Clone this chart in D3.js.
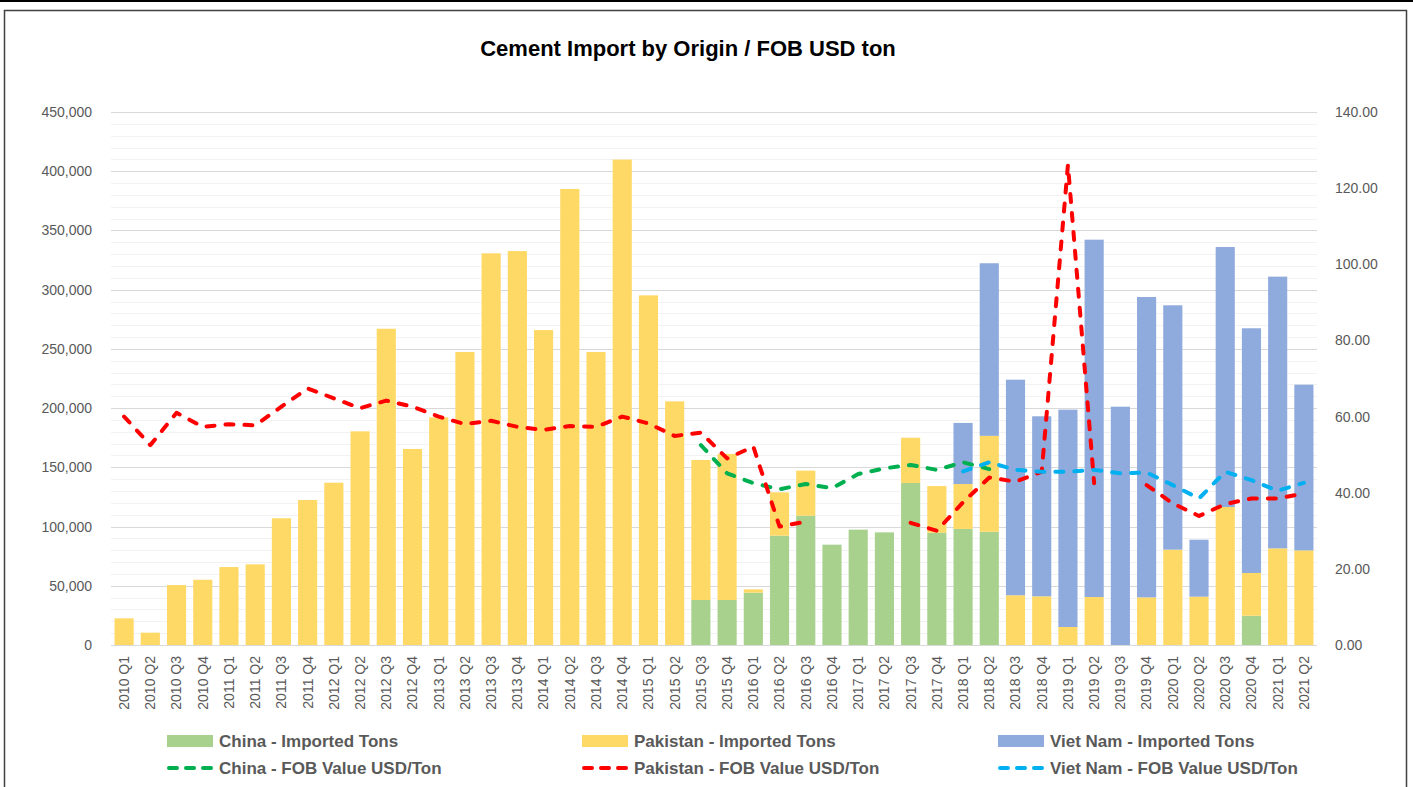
<!DOCTYPE html>
<html>
<head>
<meta charset="utf-8">
<script src="https://cdn.jsdelivr.net/npm/d3@7"></script>
<style>
    body { margin: 0; background: #ffffff; }
    svg { display: block; font-family: "Liberation Sans", Arial, sans-serif; }
</style>
</head>
<body>
<svg width="1413" height="787"></svg>
<script>
    var quarters = [
        "2010 Q1", "2010 Q2", "2010 Q3", "2010 Q4",
        "2011 Q1", "2011 Q2", "2011 Q3", "2011 Q4",
        "2012 Q1", "2012 Q2", "2012 Q3", "2012 Q4",
        "2013 Q1", "2013 Q2", "2013 Q3", "2013 Q4",
        "2014 Q1", "2014 Q2", "2014 Q3", "2014 Q4",
        "2015 Q1", "2015 Q2", "2015 Q3", "2015 Q4",
        "2016 Q1", "2016 Q2", "2016 Q3", "2016 Q4",
        "2017 Q1", "2017 Q2", "2017 Q3", "2017 Q4",
        "2018 Q1", "2018 Q2", "2018 Q3", "2018 Q4",
        "2019 Q1", "2019 Q2", "2019 Q3", "2019 Q4",
        "2020 Q1", "2020 Q2", "2020 Q3", "2020 Q4",
        "2021 Q1", "2021 Q2"
    ];

    // imported tons, stacked China / Pakistan / Viet Nam
    var chinaTons = [
        0, 0, 0, 0, 0, 0, 0, 0, 0, 0, 0, 0,
        0, 0, 0, 0, 0, 0, 0, 0, 0, 0, 38000, 38000,
        44200, 92300, 109200, 84700, 97400, 95100, 136800, 94800,
        98000, 95600, 0, 0, 0, 0, 0, 0,
        0, 0, 0, 24700, 0, 0
    ];
    var pakistanTons = [
        22500, 10400, 50600, 55100, 65800, 68100, 107000, 122400,
        137000, 180400, 267000, 165500, 192200, 247400, 330700, 332600,
        265900, 385000, 247400, 409800, 295200, 205700, 118200, 123300,
        2800, 36600, 38000, 0, 0, 0, 38200, 39400,
        37900, 81000, 42000, 41100, 15200, 40500, 0, 40200,
        80500, 40800, 116500, 36100, 81600, 79900
    ];
    var vietnamTons = [
        0, 0, 0, 0, 0, 0, 0, 0, 0, 0, 0, 0,
        0, 0, 0, 0, 0, 0, 0, 0, 0, 0, 0, 0,
        0, 0, 0, 0, 0, 0, 0, 0,
        51600, 145700, 182000, 152000, 183500, 301700, 201200, 253600,
        206300, 48100, 219500, 206600, 229400, 139900
    ];

    // FOB value USD/ton (null = no data)
    var chinaFob = [
        null, null, null, null, null, null, null, null, null, null, null, null,
        null, null, null, null, null, null, null, null, null, null, 52.5, 45.1,
        42.5, 40.9, 42.3, 41.2, 44.9, 46.4, 47.3, 46.0,
        48.0, 46.2, null, null, null, null, null, null,
        null, null, null, null, null, null
    ];
    var pakistanFob = [
        60.0, 52.5, 61.0, 57.3, 58.0, 57.7, 62.6, 67.4,
        64.8, 62.2, 64.2, 62.6, 60.0, 58.0, 58.9, 57.3,
        56.5, 57.5, 57.3, 60.0, 58.2, 54.9, 55.8, 49.0,
        52.1, 31.1, 32.4, null, null, null, 32.1, 30.0,
        37.5, 44.0, 42.9, 45.5, 126.1, 42.5, null, 42.0,
        37.2, 33.9, 37.0, 38.5, 38.5, 39.8
    ];
    var vietnamFob = [
        null, null, null, null, null, null, null, null, null, null, null, null,
        null, null, null, null, null, null, null, null, null, null, null, null,
        null, null, null, null, null, null, null, null,
        45.6, 48.0, 46.0, 45.5, 45.5, 46.0, 45.1, 45.3,
        42.0, 38.5, 45.5, 43.3, 40.5, 42.6
    ];

    var leftTicks = [0, 50000, 100000, 150000, 200000, 250000, 300000, 350000, 400000, 450000];
    var rightTicks = [0, 20, 40, 60, 80, 100, 120, 140];

    var seriesNames = ["China", "Pakistan", "Viet Nam"];
    var barColors = ["#a9d18e", "#ffd966", "#8faadc"];
    var lineColors = ["#00b050", "#ff0000", "#00b0f0"];
    var textColor = "#595959";

    var svg = d3.select("svg");
    var plotLeft = 111, plotRight = 1317, plotTop = 112, plotBottom = 645;

    // frame
    svg.append("rect")
        .attr("x", 0).attr("y", 0).attr("width", 1413).attr("height", 2)
        .attr("fill", "#000000");
    svg.append("path")
        .attr("d", "M4.5,800 V10.5 H1406.5 V800")
        .attr("fill", "none")
        .attr("stroke", "#404040")
        .attr("stroke-width", 1.5);

    svg.append("text")
        .attr("x", 688).attr("y", 56)
        .attr("text-anchor", "middle")
        .attr("font-size", 22)
        .attr("font-weight", "bold")
        .attr("fill", "#000000")
        .text("Cement Import by Origin / FOB USD ton");

    var x = d3.scaleBand()
        .domain(quarters)
        .range([plotLeft, plotRight])
        .paddingInner(0.27)
        .paddingOuter(0.135);
    var y = d3.scaleLinear().domain([0, 450000]).range([plotBottom, plotTop]);
    var y2 = d3.scaleLinear().domain([0, 140]).range([plotBottom, plotTop]);

    // gridlines: minor every 10,000, major every 50,000
    svg.append("g")
        .selectAll("line")
        .data(d3.range(10000, 450001, 10000).filter(function(v) { return v % 50000 !== 0; }))
        .enter().append("line")
        .attr("x1", plotLeft).attr("x2", plotRight)
        .attr("y1", function(d) { return Math.round(y(d)) + 0.5; })
        .attr("y2", function(d) { return Math.round(y(d)) + 0.5; })
        .attr("stroke", "#f2f2f2");
    svg.append("g")
        .selectAll("line")
        .data(leftTicks.slice(1))
        .enter().append("line")
        .attr("x1", plotLeft).attr("x2", plotRight)
        .attr("y1", function(d) { return Math.round(y(d)) + 0.5; })
        .attr("y2", function(d) { return Math.round(y(d)) + 0.5; })
        .attr("stroke", "#d9d9d9");

    // stacked bars
    var table = quarters.map(function(q, i) {
        return { q: q, China: chinaTons[i], Pakistan: pakistanTons[i], "Viet Nam": vietnamTons[i] };
    });
    var stacked = d3.stack().keys(seriesNames)(table);
    svg.append("g")
        .selectAll("g")
        .data(stacked)
        .enter().append("g")
        .attr("fill", function(d, i) { return barColors[i]; })
        .selectAll("rect")
        .data(function(d) { return d; })
        .enter().append("rect")
        .attr("x", function(d) { return x(d.data.q); })
        .attr("width", x.bandwidth())
        .attr("y", function(d) { return y(d[1]); })
        .attr("height", function(d) { return y(d[0]) - y(d[1]); });

    // x axis line
    svg.append("line")
        .attr("x1", plotLeft).attr("x2", plotRight)
        .attr("y1", plotBottom + 0.5).attr("y2", plotBottom + 0.5)
        .attr("stroke", "#d9d9d9");

    // FOB lines
    var fobSeries = [chinaFob, pakistanFob, vietnamFob];
    var line = d3.line()
        .defined(function(d) { return d !== null; })
        .x(function(d, i) { return x(quarters[i]) + x.bandwidth() / 2; })
        .y(function(d) { return y2(d); });
    svg.append("g")
        .selectAll("path")
        .data(fobSeries)
        .enter().append("path")
        .attr("d", line)
        .attr("fill", "none")
        .attr("stroke", function(d, i) { return lineColors[i]; })
        .attr("stroke-width", 4)
        .attr("stroke-linecap", "round")
        .attr("stroke-linejoin", "round")
        .attr("stroke-dasharray", "8,11");

    // axes
    var fmt = d3.format(",");
    svg.append("g")
        .attr("transform", "translate(" + (plotLeft - 16) + ",0)")
        .call(d3.axisLeft(y).tickValues(leftTicks).tickFormat(fmt).tickSize(0))
        .call(function(g) { g.select(".domain").remove(); });
    svg.append("g")
        .attr("transform", "translate(" + (plotRight + 15) + ",0)")
        .call(d3.axisRight(y2).tickValues(rightTicks).tickFormat(d3.format(".2f")).tickSize(0))
        .call(function(g) { g.select(".domain").remove(); });
    svg.append("g")
        .attr("transform", "translate(0," + (plotBottom + 11) + ")")
        .call(d3.axisBottom(x).tickSize(0))
        .call(function(g) { g.select(".domain").remove(); })
        .selectAll("text")
        .attr("transform", "rotate(-90)")
        .attr("text-anchor", "end")
        .attr("x", 0)
        .attr("y", 0)
        .attr("dy", "0.35em");
    svg.selectAll(".tick text")
        .attr("fill", textColor)
        .attr("font-size", 14)
        .attr("font-family", "Liberation Sans, Arial, sans-serif");

    // legend
    var legendX = [167, 582, 998];
    var legend = svg.append("g")
        .attr("font-size", 17)
        .attr("font-weight", "bold")
        .attr("fill", textColor);
    seriesNames.forEach(function(name, i) {
        legend.append("rect")
            .attr("x", legendX[i]).attr("y", 735)
            .attr("width", 46).attr("height", 12)
            .attr("fill", barColors[i]);
        legend.append("text")
            .attr("x", legendX[i] + 52).attr("y", 741)
            .attr("dy", "0.35em")
            .text(name + " - Imported Tons");
        legend.append("line")
            .attr("x1", legendX[i] + 2).attr("x2", legendX[i] + 44)
            .attr("y1", 768).attr("y2", 768)
            .attr("stroke", lineColors[i])
            .attr("stroke-width", 4)
            .attr("stroke-linecap", "round")
            .attr("stroke-dasharray", "8,9");
        legend.append("text")
            .attr("x", legendX[i] + 52).attr("y", 768)
            .attr("dy", "0.35em")
            .text(name + " - FOB Value USD/Ton");
    });
</script>
</body>
</html>
